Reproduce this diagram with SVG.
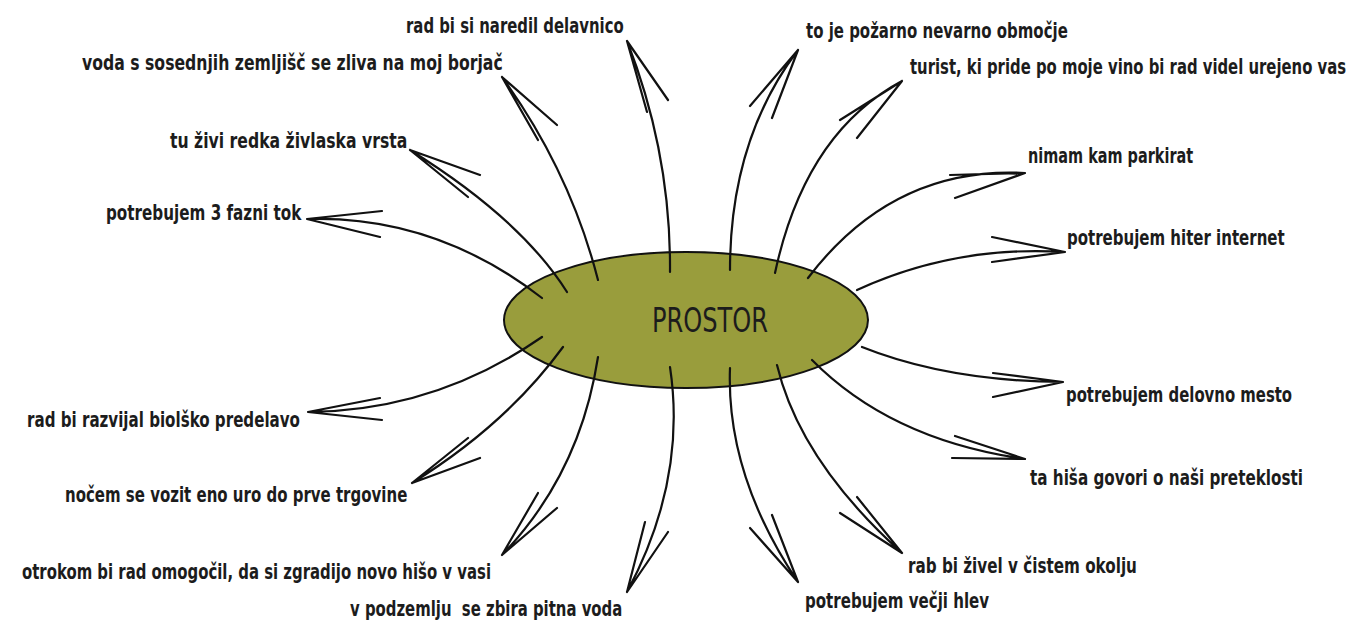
<svg xmlns="http://www.w3.org/2000/svg" width="1351" height="621" viewBox="0 0 1351 621">
<style>
.lbl{font-family:"DejaVu Sans Condensed","DejaVu Sans","Liberation Sans",sans-serif;font-size:22px;font-weight:bold;fill:#1c1c1c;white-space:pre}
.c{fill:none;stroke:#111;stroke-width:2.2;stroke-linecap:round;stroke-linejoin:round}
.title{font-family:"DejaVu Sans Condensed","DejaVu Sans","Liberation Sans",sans-serif;font-size:34px;fill:#1c1c1c}
</style>
<rect width="1351" height="621" fill="#fff"/>
<g id="center">
<ellipse cx="686" cy="320" rx="182" ry="68" fill="#999d3c" stroke="#111" stroke-width="2"/>
</g>
<g id="connectors">
<path class="c" d="M670,272 Q671,153 627,41 M647,112 L627,41 L668,100"/>
<path class="c" d="M730,270 Q730,140 798,50 M750,106 L798,50 L772,118"/>
<path class="c" d="M775,273 Q805,133 902,81 M840,120 L902,81 L857,138"/>
<path class="c" d="M808,278 Q893,166 1025,173 M950,175 L1025,173 L955,198"/>
<path class="c" d="M857,290 Q955,245 1065,252 M992,237 L1065,252 L992,262"/>
<path class="c" d="M598,280 Q570,171 502,77 M557,125 L502,77 L538,140"/>
<path class="c" d="M567,292 Q521,219 410,150 M480,175 L410,150 L468,197"/>
<path class="c" d="M542,298 Q435,215 307,219 M382,211 L307,219 L380,237"/>
<path class="c" d="M542,337 Q435,411 308,412 M380,398 L308,412 L382,420"/>
<path class="c" d="M563,347 Q506,425 412,483 M468,438 L412,483 L480,458"/>
<path class="c" d="M598,357 Q580,474 502,555 M538,493 L502,555 L557,508"/>
<path class="c" d="M670,367 Q687,480 627,592 M645,522 L627,592 L668,532"/>
<path class="c" d="M730,368 Q726,475 798,582 M772,515 L798,582 L750,528"/>
<path class="c" d="M777,365 Q800,461 902,553 M857,497 L902,553 L840,513"/>
<path class="c" d="M812,360 Q891,440 1025,459 M955,436 L1025,459 L952,458"/>
<path class="c" d="M862,347 Q947,381 1063,382 M993,373 L1063,382 L993,397"/>
</g>
<g id="node-prostor"><text class="title" x="652" y="332" textLength="116" lengthAdjust="spacingAndGlyphs">PROSTOR</text></g>
<g id="n1"><text class="lbl" transform="translate(406,33) scale(0.7,1)" textLength="311" lengthAdjust="spacingAndGlyphs">rad bi si naredil delavnico</text></g>
<g id="n2"><text class="lbl" transform="translate(82,70) scale(0.7,1)" textLength="601" lengthAdjust="spacingAndGlyphs">voda s sosednjih zemljišč se zliva na moj borjač</text></g>
<g id="n3"><text class="lbl" transform="translate(170,148) scale(0.7,1)" textLength="339" lengthAdjust="spacingAndGlyphs">tu živi redka živlaska vrsta</text></g>
<g id="n4"><text class="lbl" transform="translate(106,220) scale(0.7,1)" textLength="279" lengthAdjust="spacingAndGlyphs">potrebujem 3 fazni tok</text></g>
<g id="n5"><text class="lbl" transform="translate(806,38) scale(0.7,1)" textLength="374" lengthAdjust="spacingAndGlyphs">to je požarno nevarno območje</text></g>
<g id="n6"><text class="lbl" transform="translate(910,74) scale(0.7,1)" textLength="623" lengthAdjust="spacingAndGlyphs">turist, ki pride po moje vino bi rad videl urejeno vas</text></g>
<g id="n7"><text class="lbl" transform="translate(1028,163) scale(0.7,1)" textLength="236" lengthAdjust="spacingAndGlyphs">nimam kam parkirat</text></g>
<g id="n8"><text class="lbl" transform="translate(1067,245) scale(0.7,1)" textLength="311" lengthAdjust="spacingAndGlyphs">potrebujem hiter internet</text></g>
<g id="n9"><text class="lbl" transform="translate(1066,402) scale(0.7,1)" textLength="323" lengthAdjust="spacingAndGlyphs">potrebujem delovno mesto</text></g>
<g id="n10"><text class="lbl" transform="translate(1030,485) scale(0.7,1)" textLength="390" lengthAdjust="spacingAndGlyphs">ta hiša govori o naši preteklosti</text></g>
<g id="n11"><text class="lbl" transform="translate(908,573) scale(0.7,1)" textLength="327" lengthAdjust="spacingAndGlyphs">rab bi živel v čistem okolju</text></g>
<g id="n12"><text class="lbl" transform="translate(805,608) scale(0.7,1)" textLength="263" lengthAdjust="spacingAndGlyphs">potrebujem večji hlev</text></g>
<g id="n13"><text class="lbl" transform="translate(350,616) scale(0.7,1)" textLength="389" lengthAdjust="spacingAndGlyphs">v podzemlju  se zbira pitna voda</text></g>
<g id="n14"><text class="lbl" transform="translate(22,579) scale(0.7,1)" textLength="670" lengthAdjust="spacingAndGlyphs">otrokom bi rad omogočil, da si zgradijo novo hišo v vasi</text></g>
<g id="n15"><text class="lbl" transform="translate(65,502) scale(0.7,1)" textLength="489" lengthAdjust="spacingAndGlyphs">nočem se vozit eno uro do prve trgovine</text></g>
<g id="n16"><text class="lbl" transform="translate(27,427) scale(0.7,1)" textLength="390" lengthAdjust="spacingAndGlyphs">rad bi razvijal biolško predelavo</text></g>
</svg>
